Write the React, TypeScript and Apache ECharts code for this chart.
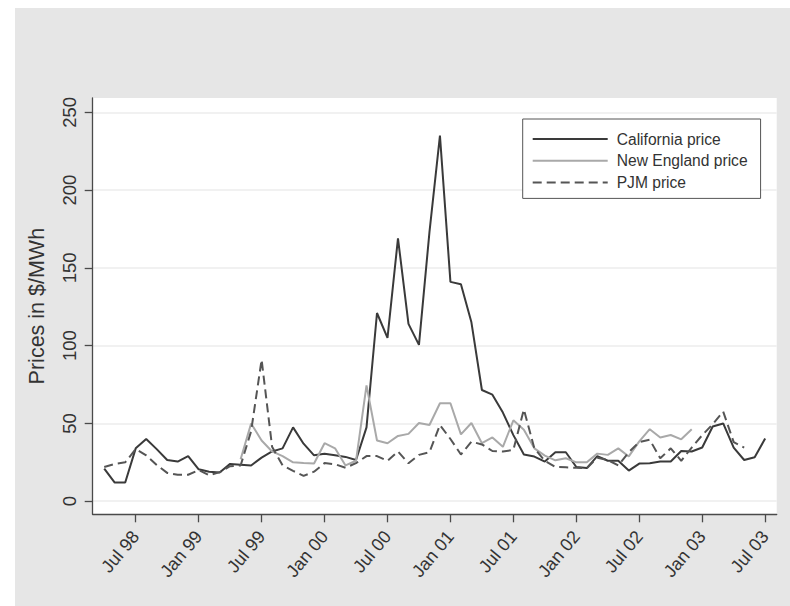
import React, { useEffect, useRef } from "react";
import * as echarts from "echarts";

// Monthly observations, index 0 = Apr 1998 ... index 63 = Jul 2003
const tickMonthIndex = [3, 9, 15, 21, 27, 33, 39, 45, 51, 57, 63];
const tickLabels = ["Jul 98", "Jan 99", "Jul 99", "Jan 00", "Jul 00", "Jan 01", "Jul 01", "Jan 02", "Jul 02", "Jan 03", "Jul 03"];
const yTicks = [0, 50, 100, 150, 200, 250];
const seriesNames = ["California price", "New England price", "PJM price"];

const california = [
  21, 12, 12, 34, 40, 33.5, 26.5, 25.5, 29, 20.5,
  19, 18.5, 24, 23.5, 23, 28, 32, 34, 47.5, 37,
  29.5, 30.5, 29.5, 28.5, 26.5, 47.5, 121, 105, 169, 114,
  100.5, 173, 235, 141, 139.5, 115, 71.5, 68.5, 57, 42.5,
  30, 28.7, 25.5, 31.5, 31.5, 22, 21.3, 29, 26, 26,
  19.7, 24.2, 24.4, 25.5, 25.5, 32.3, 32, 34.5, 48, 50,
  34.5, 26.5, 28.3, 40.3,
];

const newEngland = [
  null, null, null, null, null, null, null, null, null, null,
  null, null, null, 27, 50, 39, 32, 29, 25, 24.5,
  24.3, 37.3, 34, 23, 26, 74.5, 39, 37.3, 42, 43.3,
  50.3, 49, 63, 63, 43, 50.3, 37.3, 41, 35, 52,
  46, 34, 29.3, 26.3, 27.6, 25, 25, 30.6, 29.8, 34,
  28.8, 38.5, 46.3, 41, 42.6, 39.8, 46.3, null, null, null,
  null, null, null, null,
];

const pjm = [
  22, 24, 25, 33.5, 29.5, 23.3, 18.2, 17, 17, 20,
  16.7, 18.7, 22.5, 23, 45, 91, 35, 23, 19.5, 16.3,
  19, 24.5, 23.8, 21.5, 24.5, 29, 29, 26, 32, 24.4,
  29.8, 31.5, 49, 40, 30, 38.3, 36.5, 32.3, 32, 33,
  59, 34, 26, 22, 21.8, 21.5, 21.2, 28, 26.5, 23,
  31.5, 38, 39.5, 27.6, 34, 26, 34.5, 42.5, 49.5, 57.6,
  38, 34.5, null, null,
];

const FONT = "'Liberation Sans', Arial, Helvetica, sans-serif";
const TEXT = "#333333";
const AXIS = "#4a4a4a";

function toPairs(values: (number | null)[]) {
  return values.map((v, i) => [i, v]);
}

export default function App() {
  const ref = useRef<HTMLDivElement>(null);

  useEffect(() => {
    if (!ref.current) return;
    const chart = echarts.init(ref.current, undefined, { renderer: "svg" });
    const option = {
      animation: false,
      backgroundColor: "#e6e6e6",
      textStyle: { fontFamily: FONT },
      grid: {
        show: true,
        left: 77.7,
        top: 90,
        right: 13.3,
        bottom: 91.7,
        backgroundColor: "#ffffff",
        borderWidth: 0,
        containLabel: false,
      },
      legend: {
        orient: "vertical",
        left: 507.7,
        top: 111,
        itemWidth: 75,
        itemHeight: 14,
        itemGap: 5.7,
        padding: [12, 13, 8, 9],
        borderColor: "#555555",
        borderWidth: 1,
        backgroundColor: "#ffffff",
        data: seriesNames,
        itemStyle: { opacity: 0 },
        textStyle: {
          fontFamily: FONT,
          fontSize: 15.6,
          color: TEXT,
          lineHeight: 14,
          padding: [0, 0, 0, 4],
        },
      },
      xAxis: {
        type: "value",
        min: -1.1,
        max: 64.1,
        axisLine: { show: true, onZero: false, lineStyle: { color: AXIS, width: 1.3 } },
        axisTick: {
          show: true,
          length: 8,
          customValues: tickMonthIndex,
          lineStyle: { color: AXIS, width: 1.3 },
        },
        axisLabel: {
          customValues: tickMonthIndex,
          rotate: 50,
          margin: 19,
          fontSize: 18,
          color: TEXT,
          fontFamily: FONT,
          formatter: (v: number) => {
            const k = tickMonthIndex.indexOf(Math.round(v));
            return k >= 0 ? tickLabels[k] : "";
          },
        },
        splitLine: { show: false },
      },
      yAxis: {
        type: "value",
        min: -8.4,
        max: 259.2,
        name: "Prices in $/MWh",
        nameLocation: "middle",
        nameGap: 45,
        nameTextStyle: { fontSize: 21.5, color: TEXT, fontFamily: FONT },
        axisLine: { show: true, onZero: false, lineStyle: { color: AXIS, width: 1.3 } },
        axisTick: {
          show: true,
          length: 8,
          customValues: yTicks,
          lineStyle: { color: AXIS, width: 1.3 },
        },
        axisLabel: {
          customValues: yTicks,
          rotate: 90,
          margin: 14,
          fontSize: 18.5,
          color: TEXT,
          fontFamily: FONT,
        },
        splitLine: { show: true, lineStyle: { color: "#ececec", width: 1.5 } },
      },
      series: [
        {
          name: seriesNames[0],
          type: "line",
          data: toPairs(california),
          symbol: "none",
          lineStyle: { color: "#3a3a3a", width: 2 },
          itemStyle: { color: "#3a3a3a" },
        },
        {
          name: seriesNames[1],
          type: "line",
          data: toPairs(newEngland),
          symbol: "none",
          lineStyle: { color: "#a9a9a9", width: 2 },
          itemStyle: { color: "#a9a9a9" },
        },
        {
          name: seriesNames[2],
          type: "line",
          data: toPairs(pjm),
          symbol: "none",
          lineStyle: { color: "#555555", width: 2, type: [9, 5] },
          itemStyle: { color: "#555555" },
        },
      ],
    };
    chart.setOption(option as any);
    return () => chart.dispose();
  }, []);

  return (
    <div style={{ position: "fixed", left: 0, top: 0, width: 790, height: 606, background: "#ffffff" }}>
      <div ref={ref} style={{ position: "absolute", left: 15, top: 8, width: 775, height: 598 }} />
    </div>
  );
}
